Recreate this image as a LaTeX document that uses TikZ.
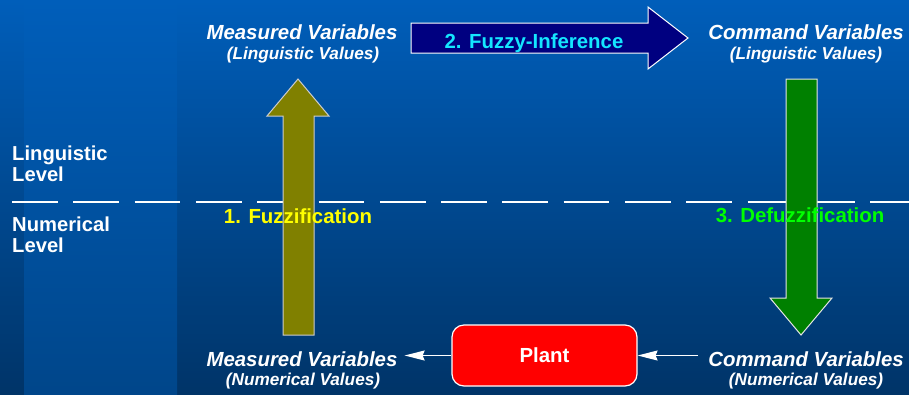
\documentclass[tikz,border=0pt]{standalone}
\usepackage{fontspec}
\setmainfont{Liberation Sans}
\usetikzlibrary{arrows.meta}

\definecolor{bgtop}{RGB}{0,94,186}
\definecolor{bgbot}{RGB}{0,52,104}
\definecolor{bandbot}{RGB}{0,70,138}
\definecolor{olivefill}{RGB}{128,128,0}
\definecolor{greenfill}{RGB}{0,128,0}
\definecolor{navyfill}{RGB}{0,0,128}
\definecolor{cyantext}{RGB}{20,230,255}
\definecolor{yellowtext}{RGB}{255,255,0}
\definecolor{greentext}{RGB}{0,255,0}
\definecolor{plantred}{RGB}{255,0,0}

\tikzset{
  vartitle/.style={text=white, font=\fontsize{20.4}{22}\selectfont\bfseries\itshape, inner sep=0pt, anchor=base},
  varsub/.style={text=white, font=\fontsize{17.2}{19}\selectfont\bfseries\itshape, inner sep=0pt, anchor=base},
  levellabel/.style={text=white, font=\fontsize{20.2}{20.5}\selectfont\bfseries, inner sep=0pt, anchor=north west, align=left},
  steplabel/.style={font=\fontsize{20.4}{22}\selectfont\bfseries, inner sep=0pt, anchor=base},
  blockarrow/.style={line width=1pt, line join=miter},
  flowline/.style={white, line width=1.2pt, -{Stealth[length=20pt,width=10pt,inset=2pt]}},
}

\begin{document}
\begin{tikzpicture}[x=1pt,y=-1pt]
  % background
  \shade[top color=bgtop, bottom color=bgbot] (0,0) rectangle (909,394);
  \shade[top color=bgtop, bottom color=bandbot] (24,0) rectangle (177,394);
  \useasboundingbox (0,0) rectangle (909,394);

  % boundary between the two levels
  \draw[white, line width=1.3pt, dash pattern=on 45.7pt off 15.6pt] (12,202) -- (909,202);

  % level labels
  \node[levellabel] (ling) at (12,146) {Linguistic\\Level};
  \node[levellabel] (num) at (12,217) {Numerical\\Level};

  % 1. fuzzification arrow (up)
  \draw[blockarrow, fill=olivefill, draw=black!20]
    (283,335) -- (283,116) -- (267,116) -- (298,79) -- (329,116) -- (314,116) -- (314,335) -- cycle;
  % 3. defuzzification arrow (down)
  \draw[blockarrow, fill=greenfill, draw=white!90!black]
    (786,79) -- (786,298) -- (770,298) -- (801,335) -- (832,298) -- (817,298) -- (817,79) -- cycle;
  % 2. fuzzy-inference arrow (right)
  \draw[blockarrow, fill=navyfill, draw=white]
    (411,23) -- (648,23) -- (648,7) -- (688,38) -- (648,69) -- (648,53) -- (411,53) -- cycle;

  % step labels
  \node[steplabel, text=cyantext] (inf) at (534,48) {2. Fuzzy-Inference};
  \node[steplabel, text=yellowtext] (fuz) at (298,223) {1. Fuzzification};
  \node[steplabel, text=greentext] (defuz) at (800,222) {3. Defuzzification};

  % variable groups
  \node[vartitle] (mlT) at (302,39) {Measured Variables};
  \node[varsub]   (mlS) at (303,59) {(Linguistic Values)};
  \node[vartitle] (clT) at (806,39) {Command Variables};
  \node[varsub]   (clS) at (806,59) {(Linguistic Values)};
  \node[vartitle] (mnT) at (302,366) {Measured Variables};
  \node[varsub]   (mnS) at (303,385) {(Numerical Values)};
  \node[vartitle] (cnT) at (806,366) {Command Variables};
  \node[varsub]   (cnS) at (806,385) {(Numerical Values)};

  % plant
  \node[draw=white, line width=1.2pt, fill=plantred, rounded corners=12pt,
        minimum width=185pt, minimum height=61pt, inner sep=0pt,
        text=white, font=\fontsize{20.4}{22}\selectfont\bfseries] (plant) at (544.5,355.5) {Plant};

  % signal flow through the plant
  \coordinate (cnIn) at ([xshift=-10pt]cnT.west |- plant.east);
  \coordinate (mnOut) at ([xshift=7pt]mnT.east |- plant.west);
  \draw[flowline] (cnIn) -- (plant.east);
  \draw[flowline] (plant.west) -- (mnOut);
\end{tikzpicture}
\end{document}
